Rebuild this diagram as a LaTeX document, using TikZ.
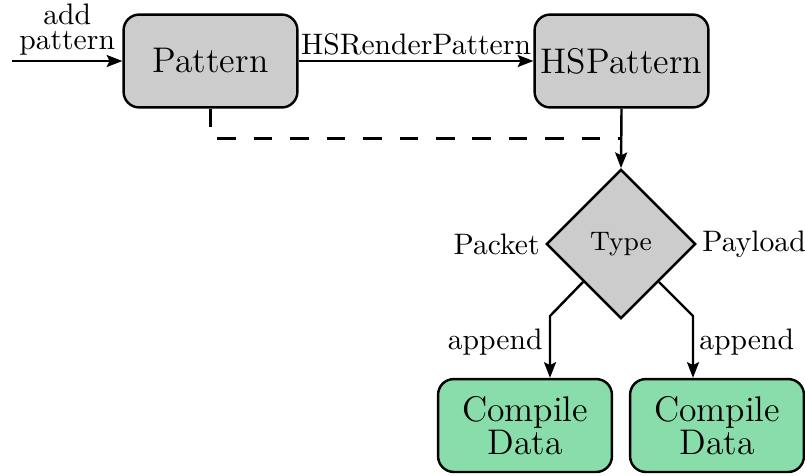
\documentclass[tikz,border=0pt]{standalone}
\usetikzlibrary{shapes.geometric,arrows.meta}
\definecolor{boxgray}{HTML}{CCCCCC}
\definecolor{boxgreen}{HTML}{88DDAA}
\begin{document}
\begin{tikzpicture}[x=0.3509pt,y=-0.3509pt,
  line width=0.85pt,
  font=\fontsize{10.4}{12.5}\selectfont,
  >={Stealth[length=5.5pt,width=4.2pt,inset=1pt]},
  procbox/.style={draw,rounded corners=5.5pt,fill=boxgray,
    font=\fontsize{12.5}{15}\selectfont,
    minimum width=61pt,minimum height=32.6pt,inner sep=2pt,align=center},
  databox/.style={procbox,fill=boxgreen},
  decision/.style={draw,diamond,aspect=1,fill=boxgray,
    font=\fontsize{9.4}{11}\selectfont,
    minimum width=52.4pt,minimum height=52.4pt,inner sep=0pt},
  lab/.style={inner sep=1.5pt},
  flow/.style={->},
  link/.style={dash pattern=on 6.5pt off 6.3pt}]
\useasboundingbox (0,0) rectangle (805,475);

% process boxes
\node[procbox] (pat) at (210.5,61) {Pattern};
\node[procbox] (hsp) at (621.5,61) {HSPattern};
\node[decision] (type) at (621,244) {Type};
\node[databox] (cd1) at (525,425.5) {Compile\\[-3.6pt]Data};
\node[databox] (cd2) at (717,425.5) {Compile\\[-3.6pt]Data};

% incoming edge
\coordinate (start) at (12,61);
\draw[flow] (start) -- node[above,align=center,lab] {add\\[-3.8pt]pattern} (pat.west);

% render step
\draw[flow] (pat.east) -- node[above,lab] {HSRenderPattern} (hsp.west);

% dependency link and decision
\coordinate (dbend) at (210.5,138.5);
\coordinate (dend) at (621.5,138.5);
\draw[link] (pat.south) -- (dbend) -- (dend);
\draw[flow] (hsp.south) -- (type.north);

\node[lab,anchor=east] (pk) at (type.west) {Packet};
\node[lab,anchor=west] (pl) at (type.east) {Payload};

% branches
\coordinate (kl) at (550,316);
\coordinate (kr) at (693,316);
\draw[flow] (type.south west) -- (kl) -- node[left,pos=0.42,inner sep=2.2pt] {append} (kl |- cd1.north);
\draw[flow] (type.south east) -- (kr) -- node[right,pos=0.42,inner sep=1.8pt] {append} (kr |- cd2.north);
\end{tikzpicture}
\end{document}
